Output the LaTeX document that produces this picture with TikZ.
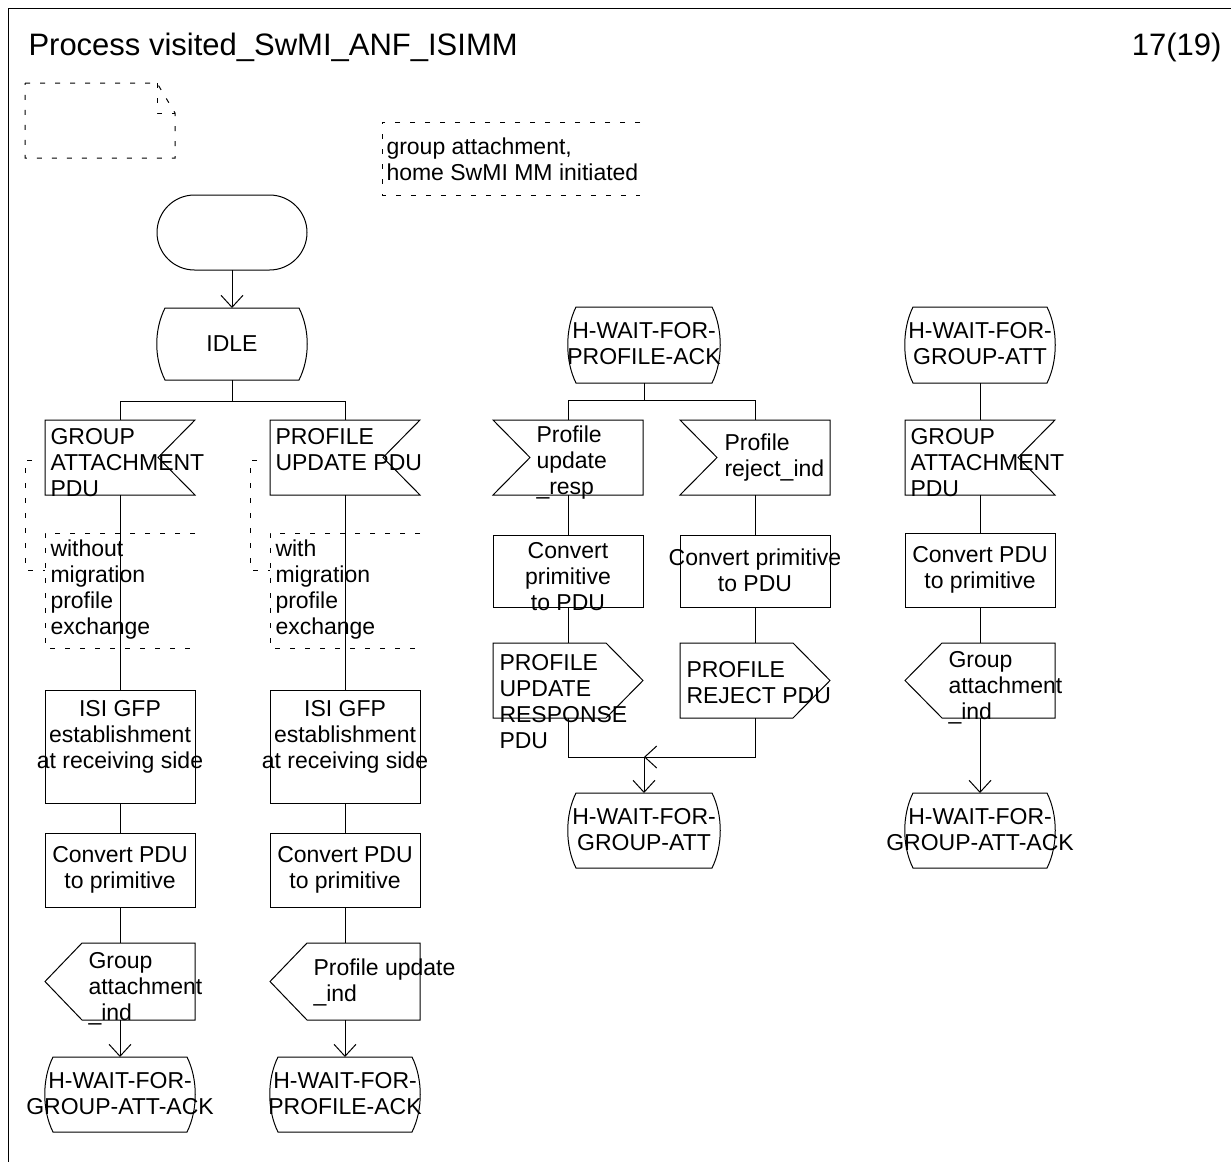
\documentclass[tikz,border=0pt]{standalone}
\usepackage{fontspec}
\setmainfont{Liberation Sans}
\usetikzlibrary{arrows.meta,calc}
\begin{document}
\begin{tikzpicture}[x=0.5pt,y=-0.5pt,line width=0.5pt,
  shp/.style={inner sep=0pt,outer sep=0pt,minimum width=75pt,minimum height=37.5pt},
  taskbox/.style={shp,draw},
  txt/.style={inner sep=0pt,font=\fontsize{11.5}{13}\selectfont,align=left,anchor=west},
  txtc/.style={inner sep=0pt,font=\fontsize{11.5}{13}\selectfont,align=center},
  dsh/.style={dash pattern=on 2.5pt off 5pt},
  arr/.style={-{Straight Barb[length=6pt,width=11pt]}}
]
\useasboundingbox (0,0) rectangle (1231,1162);
% frame
\draw (1231,8) -- (8,8) -- (8,1162);
\node[inner sep=0pt,anchor=base west,font=\fontsize{15.5}{18}\selectfont] (title) at (28,55) {Process visited\_SwMI\_ANF\_ISIMM};
\node[inner sep=0pt,anchor=base east,font=\fontsize{15.5}{18}\selectfont] (page) at (1222,55) {17(19)};

% top-left dashed page symbol
\draw[dsh] (25,83) -- (157,83) -- (175,113) -- (175,158) -- (25,158) -- cycle;
\draw[dsh] (157,83) -- (157,113) -- (175,113);

% comment top
\node[shp,minimum width=129pt,minimum height=36.5pt] (cm0) at (511,158.5) {};
\draw[dsh] (cm0.north east) -- (cm0.north west) -- (cm0.south west) -- (cm0.south east);
\node[txt] (cm0t) at (386,159) {group attachment,\\home SwMI MM initiated};

% start
\node[shp,draw,rounded corners=18.75pt] (start) at (232,232.5) {};
% IDLE state
\node[shp,minimum height=36pt] (idle) at (232,344) {};
\draw ($(idle.north west)+(8,0)$) -- ($(idle.north east)+(-8,0)$)
  .. controls ($(idle.north east)+(3,22)$) and ($(idle.south east)+(3,-22)$) .. ($(idle.south east)+(-8,0)$)
  -- ($(idle.south west)+(8,0)$)
  .. controls ($(idle.south west)+(-3,-22)$) and ($(idle.north west)+(-3,22)$) .. cycle;
\node[txtc] (idlet) at (232,344) {IDLE};
\draw[arr] (start.south) -- (idle.north);
\coordinate (b1) at (232,401);
\draw (idle.south) -- (b1);

% ---------- column 1 ----------
\node[shp] (in1) at (120,457.5) {};
\draw (in1.north west) -- (in1.north east) -- ($(in1.east)+(-37,0)$) -- (in1.south east) -- (in1.south west) -- cycle;
\node[txt] (in1t) at (50,463) {GROUP\\ATTACHMENT\\PDU};
\draw (b1) -| (in1.north);
\node[shp,minimum height=57.5pt] (cm1) at (120,590.5) {};
\draw[dsh] (cm1.north east) -- (cm1.north west) -- (cm1.south west) -- (cm1.south east);
\node[txt] (cm1t) at (50,590) {without\\migration\\profile\\exchange};
\draw[dsh] ($(in1.west |- 0,460)+(-13,0)$) -- (25,460) -- (25,570) -- (cm1.west |- 0,570);
\node[taskbox,minimum height=56.5pt] (t1) at (120,746.5) {};
\node[txtc] (t1t) at (120,737) {ISI GFP\\establishment\\at receiving side};
\node[taskbox,minimum height=37pt] (t2) at (120,870) {};
\node[txtc] (t2t) at (120,870) {Convert PDU\\to primitive};
\node[shp,minimum height=38.5pt] (o1) at (120,981.5) {};
\draw (o1.north east) -- ($(o1.north west)+(37,0)$) -- (o1.west) -- ($(o1.south west)+(37,0)$) -- (o1.south east) -- cycle;
\node[txt] (o1t) at (88,989) {Group\\attachment\\\_ind};
\node[shp] (s1) at (120,1094.5) {};
\draw ($(s1.north west)+(8,0)$) -- ($(s1.north east)+(-8,0)$)
  .. controls ($(s1.north east)+(3,22)$) and ($(s1.south east)+(3,-22)$) .. ($(s1.south east)+(-8,0)$)
  -- ($(s1.south west)+(8,0)$)
  .. controls ($(s1.south west)+(-3,-22)$) and ($(s1.north west)+(-3,22)$) .. cycle;
\node[txtc] (s1t) at (120,1094) {H-WAIT-FOR-\\GROUP-ATT-ACK};
\draw (in1.south) -- (t1.north);
\draw (t1.south) -- (t2.north);
\draw (t2.south) -- (o1.north);
\draw[arr] (o1.south) -- (s1.north);

% ---------- column 2 ----------
\node[shp] (in2) at (345,457.5) {};
\draw (in2.north west) -- (in2.north east) -- ($(in2.east)+(-37,0)$) -- (in2.south east) -- (in2.south west) -- cycle;
\node[txt] (in2t) at (275,450) {PROFILE\\UPDATE PDU};
\draw (b1) -| (in2.north);
\node[shp,minimum height=57.5pt] (cm2) at (345,590.5) {};
\draw[dsh] (cm2.north east) -- (cm2.north west) -- (cm2.south west) -- (cm2.south east);
\node[txt] (cm2t) at (275,590) {with\\migration\\profile\\exchange};
\draw[dsh] ($(in2.west |- 0,460)+(-13,0)$) -- (250,460) -- (250,570) -- (cm2.west |- 0,570);
\node[taskbox,minimum height=56.5pt] (t3) at (345,746.5) {};
\node[txtc] (t3t) at (345,737) {ISI GFP\\establishment\\at receiving side};
\node[taskbox,minimum height=37pt] (t4) at (345,870) {};
\node[txtc] (t4t) at (345,870) {Convert PDU\\to primitive};
\node[shp,minimum height=38.5pt] (o2) at (345,981.5) {};
\draw (o2.north east) -- ($(o2.north west)+(37,0)$) -- (o2.west) -- ($(o2.south west)+(37,0)$) -- (o2.south east) -- cycle;
\node[txt] (o2t) at (313,982) {Profile update\\\_ind};
\node[shp] (s2) at (345,1094.5) {};
\draw ($(s2.north west)+(8,0)$) -- ($(s2.north east)+(-8,0)$)
  .. controls ($(s2.north east)+(3,22)$) and ($(s2.south east)+(3,-22)$) .. ($(s2.south east)+(-8,0)$)
  -- ($(s2.south west)+(8,0)$)
  .. controls ($(s2.south west)+(-3,-22)$) and ($(s2.north west)+(-3,22)$) .. cycle;
\node[txtc] (s2t) at (345,1094) {H-WAIT-FOR-\\PROFILE-ACK};
\draw (in2.south) -- (t3.north);
\draw (t3.south) -- (t4.north);
\draw (t4.south) -- (o2.north);
\draw[arr] (o2.south) -- (s2.north);

% ---------- column 3 ----------
\node[shp,minimum width=76pt,minimum height=38pt] (s3) at (644,345) {};
\draw ($(s3.north west)+(8,0)$) -- ($(s3.north east)+(-8,0)$)
  .. controls ($(s3.north east)+(3,22)$) and ($(s3.south east)+(3,-22)$) .. ($(s3.south east)+(-8,0)$)
  -- ($(s3.south west)+(8,0)$)
  .. controls ($(s3.south west)+(-3,-22)$) and ($(s3.north west)+(-3,22)$) .. cycle;
\node[txtc] (s3t) at (644,344) {H-WAIT-FOR-\\PROFILE-ACK};
\coordinate (b2) at (644,400);
\node[shp] (in3) at (568,457.5) {};
\draw (in3.north west) -- (in3.north east) -- (in3.south east) -- (in3.south west) -- ($(in3.west)+(37,0)$) -- cycle;
\node[txt] (in3t) at (536,463) {Profile\\update\\\_resp};
\node[shp] (in4) at (755,457.5) {};
\draw (in4.north west) -- (in4.north east) -- (in4.south east) -- (in4.south west) -- ($(in4.west)+(37,0)$) -- cycle;
\node[txt] (in4t) at (724,458) {Profile\\reject\_ind};
\draw (s3.south) -- (b2);
\draw (b2) -| (in3.north);
\draw (b2) -| (in4.north);
\node[taskbox,minimum height=36pt] (t5) at (568,571) {};
\node[txtc] (t5t) at (568,577) {Convert\\primitive\\to PDU};
\node[taskbox,minimum height=36pt] (t6) at (755,571) {};
\node[txtc] (t6t) at (755,570) {Convert primitive\\to PDU};
\node[shp] (o3) at (568,680.5) {};
\draw (o3.north west) -- ($(o3.north east)+(-37,0)$) -- (o3.east) -- ($(o3.south east)+(-37,0)$) -- (o3.south west) -- cycle;
\node[txt] (o3t) at (499,702) {PROFILE\\UPDATE\\RESPONSE\\PDU};
\node[shp] (o4) at (755,680.5) {};
\draw (o4.north west) -- ($(o4.north east)+(-37,0)$) -- (o4.east) -- ($(o4.south east)+(-37,0)$) -- (o4.south west) -- cycle;
\node[txt] (o4t) at (686,683) {PROFILE\\REJECT PDU};
\draw (in3.south) -- (t5.north);
\draw (t5.south) -- (o3.north);
\draw (in4.south) -- (t6.north);
\draw (t6.south) -- (o4.north);
\coordinate (j) at (644,757);
\node[shp,minimum width=76pt] (s4) at (644,830.5) {};
\draw ($(s4.north west)+(8,0)$) -- ($(s4.north east)+(-8,0)$)
  .. controls ($(s4.north east)+(3,22)$) and ($(s4.south east)+(3,-22)$) .. ($(s4.south east)+(-8,0)$)
  -- ($(s4.south west)+(8,0)$)
  .. controls ($(s4.south west)+(-3,-22)$) and ($(s4.north west)+(-3,22)$) .. cycle;
\node[txtc] (s4t) at (644,830) {H-WAIT-FOR-\\GROUP-ATT};
\draw (o3.south) |- (j);
\draw[arr] (o4.south) |- (j);
\draw[arr] (j) -- (s4.north);

% ---------- column 4 ----------
\node[shp,minimum height=38pt] (s5) at (980,345) {};
\draw ($(s5.north west)+(8,0)$) -- ($(s5.north east)+(-8,0)$)
  .. controls ($(s5.north east)+(3,22)$) and ($(s5.south east)+(3,-22)$) .. ($(s5.south east)+(-8,0)$)
  -- ($(s5.south west)+(8,0)$)
  .. controls ($(s5.south west)+(-3,-22)$) and ($(s5.north west)+(-3,22)$) .. cycle;
\node[txtc] (s5t) at (980,344) {H-WAIT-FOR-\\GROUP-ATT};
\node[shp] (in5) at (980,457.5) {};
\draw (in5.north west) -- (in5.north east) -- ($(in5.east)+(-37,0)$) -- (in5.south east) -- (in5.south west) -- cycle;
\node[txt] (in5t) at (910,463) {GROUP\\ATTACHMENT\\PDU};
\node[taskbox,minimum height=37pt] (t7) at (980,570) {};
\node[txtc] (t7t) at (980,570) {Convert PDU\\to primitive};
\node[shp] (o5) at (980,680.5) {};
\draw (o5.north east) -- ($(o5.north west)+(37,0)$) -- (o5.west) -- ($(o5.south west)+(37,0)$) -- (o5.south east) -- cycle;
\node[txt] (o5t) at (948,688) {Group\\attachment\\\_ind};
\node[shp] (s6) at (980,830.5) {};
\draw ($(s6.north west)+(8,0)$) -- ($(s6.north east)+(-8,0)$)
  .. controls ($(s6.north east)+(3,22)$) and ($(s6.south east)+(3,-22)$) .. ($(s6.south east)+(-8,0)$)
  -- ($(s6.south west)+(8,0)$)
  .. controls ($(s6.south west)+(-3,-22)$) and ($(s6.north west)+(-3,22)$) .. cycle;
\node[txtc] (s6t) at (980,830) {H-WAIT-FOR-\\GROUP-ATT-ACK};
\draw (s5.south) -- (in5.north);
\draw (in5.south) -- (t7.north);
\draw (t7.south) -- (o5.north);
\draw[arr] (o5.south) -- (s6.north);
\end{tikzpicture}
\end{document}
